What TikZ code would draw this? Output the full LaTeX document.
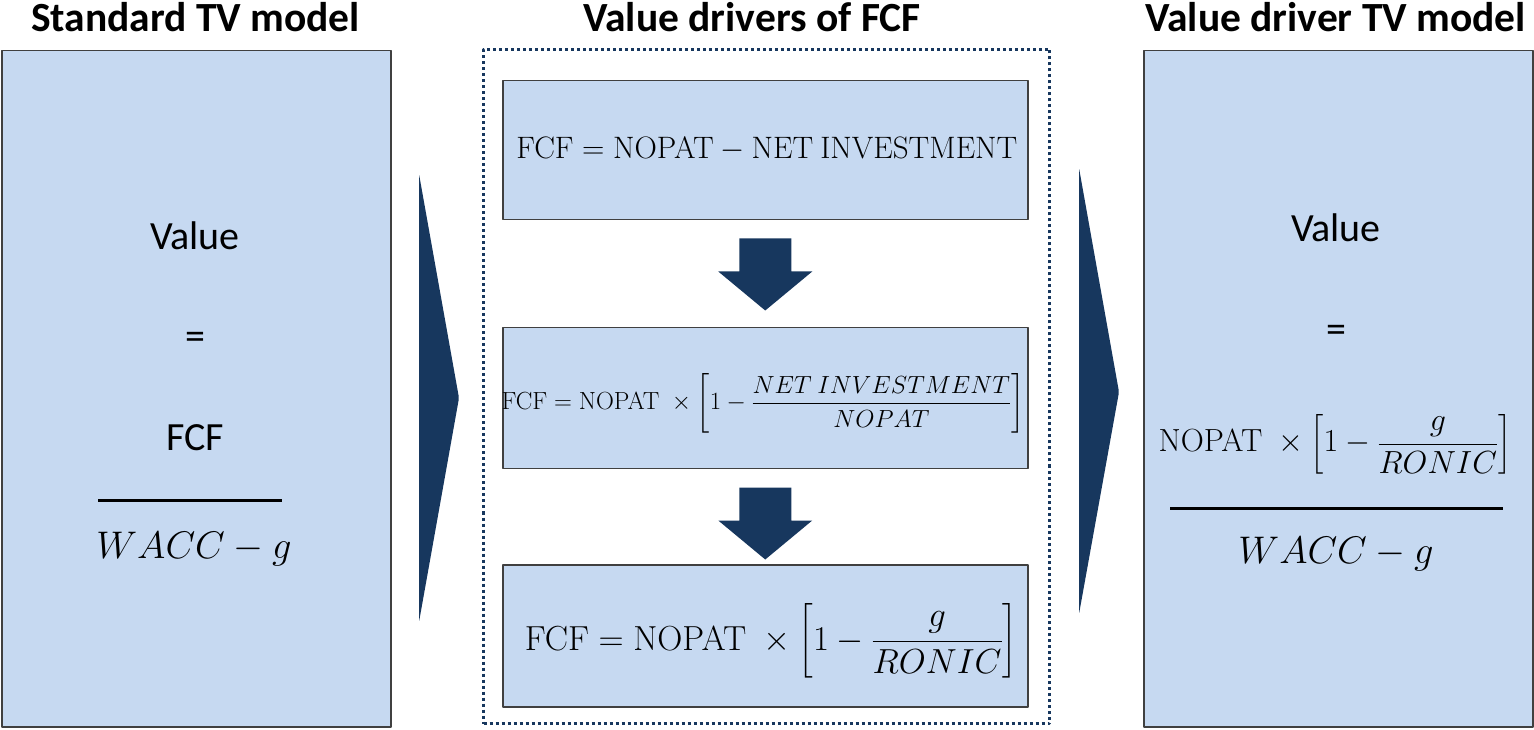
\RequirePackage{fix-cm}
\documentclass[tikz,border=0pt]{standalone}
\usepackage{amsmath}
\usepackage[no-math]{fontspec}
\setmainfont{Carlito}
\usetikzlibrary{calc}

\definecolor{paneblue}{RGB}{198,217,241}
\definecolor{navy}{RGB}{23,55,94}
\definecolor{edgegray}{RGB}{64,64,64}

\tikzset{
  panel/.style={draw=edgegray,fill=paneblue,line width=1.5pt,inner sep=0pt,anchor=north west},
  frame/.style={draw=navy,line width=3pt,dash pattern=on 3pt off 3pt,inner sep=0pt,anchor=north west},
  heading/.style={font=\fontsize{41.5}{48}\selectfont\bfseries,anchor=base},
  word/.style={font=\fontsize{40}{46}\selectfont,anchor=base},
  eqn/.style={anchor=base,inner sep=0pt},
}

\begin{document}
\begin{tikzpicture}[x=1pt,y=1pt,line join=round]
  \useasboundingbox (0,0) rectangle (1534,729);

  % headings
  \node[heading] (stdhead) at (195.5,697) {Standard TV model};
  \node[heading] (drvhead) at (752,697) {Value drivers of FCF};
  \node[heading] (vdhead) at (1335.5,697) {Value driver TV model};

  % panels
  \node[panel,minimum width=389,minimum height=676] (stdbox) at (1,679) {};
  \node[panel,minimum width=389,minimum height=676] (vdbox) at (1143,679) {};
  \node[frame,minimum width=566,minimum height=674] (drvframe) at (482,681) {};
  \node[panel,minimum width=525,minimum height=139] (fcfa) at (502,649) {};
  \node[panel,minimum width=525,minimum height=141] (fcfb) at (502,402) {};
  \node[panel,minimum width=525,minimum height=142] (fcfc) at (502,165) {};

  % standard model
  \node[word] (stdval) at (195,479) {Value};
  \node[word] (stdeq) at (195,379) {=};
  \node[word] (stdfcf) at (195,278) {FCF};
  \draw[line width=3pt] (98,229) -- (282,229);
  \node[eqn,font=\fontsize{38.5}{46}\selectfont] (stdden) at (194,171) {$WACC-g$};

  % value driver equations
  \node[eqn,font=\fontsize{31}{37}\selectfont] (eqa) at (767,570)
    {$\mathrm{FCF}=\mathrm{NOPAT}-\mathrm{NET\ INVESTMENT}$};
  \node[eqn,font=\fontsize{24.8}{30}\selectfont] (eqb) at (763,319)
    {$\mathrm{FCF}=\mathrm{NOPAT}\;\times\left[1-\dfrac{NET\ INVESTMENT}{NOPAT}\right]$};
  \node[eqn,font=\fontsize{34.8}{42}\selectfont] (eqc) at (771,79)
    {$\mathrm{FCF}=\mathrm{NOPAT}\;\times\left[1-\dfrac{g}{RONIC}\right]$};

  % value driver model
  \node[word] (vdval) at (1336,487) {Value};
  \node[word] (vdeq) at (1336,386) {=};
  \node[eqn,font=\fontsize{32}{38}\selectfont] (vdnum) at (1335,277)
    {$\mathrm{NOPAT}\;\times\left[1-\dfrac{g}{RONIC}\right]$};
  \draw[line width=3pt] (1170,221) -- (1503,221);
  \node[eqn,font=\fontsize{38.5}{46}\selectfont] (vdden) at (1336,166) {$WACC-g$};

  % block arrows
  \fill[navy,rounded corners=2pt] (419,555) -- (459,331) -- (419,107) -- cycle;
  \fill[navy,rounded corners=2pt] (1079,561) -- (1119,337) -- (1079,115) -- cycle;
  \foreach \up in {fcfa,fcfb}
    \fill[navy] ($(\up.south)+(-26,-18)$) -- ++(52,0) -- ++(0,-33) -- ++(21,0)
      -- ($(\up.south)+(0,-90)$) -- ($(\up.south)+(-47,-51)$) -- ++(21,0) -- cycle;
\end{tikzpicture}
\end{document}
